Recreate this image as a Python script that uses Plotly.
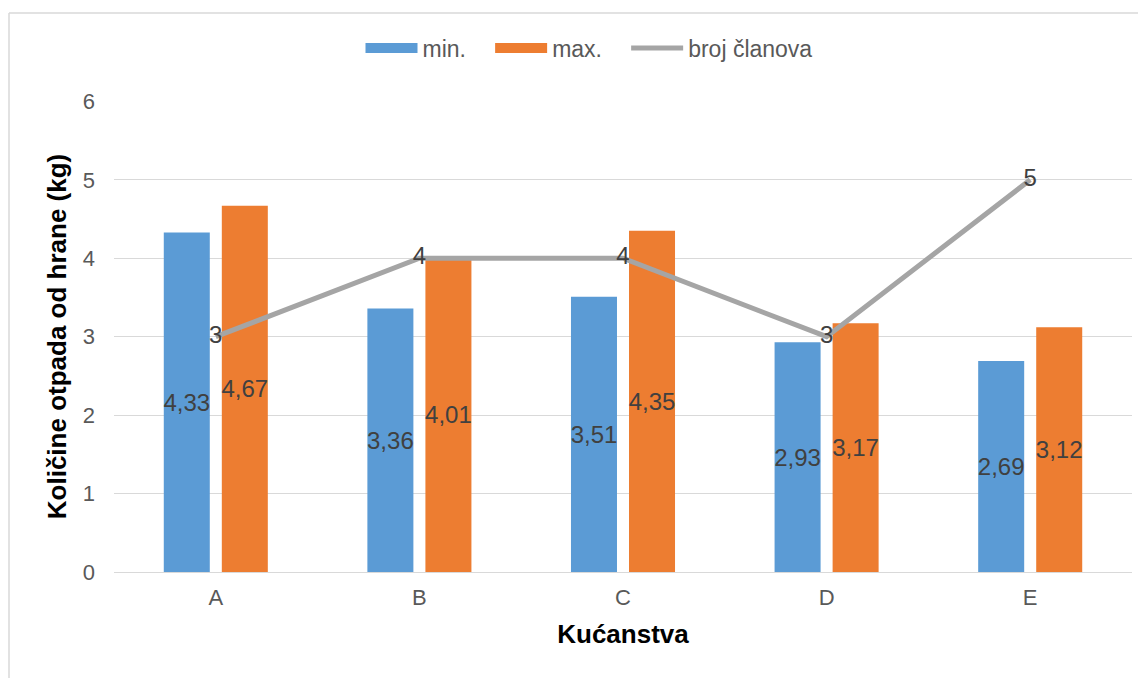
import plotly.graph_objects as go

categories = ["A", "B", "C", "D", "E"]
min_values = [4.33, 3.36, 3.51, 2.93, 2.69]
max_values = [4.67, 4.01, 4.35, 3.17, 3.12]
members = [3, 4, 4, 3, 5]
y_ticks = [0, 1, 2, 3, 4, 5, 6]

min_labels = [f"{v:.2f}".replace(".", ",") for v in min_values]
max_labels = [f"{v:.2f}".replace(".", ",") for v in max_values]
member_labels = [str(v) for v in members]

BLUE = "#5B9BD5"
ORANGE = "#ED7D31"
GRAY = "#A5A5A5"
FONT = "Liberation Sans, Arial, sans-serif"
PAD = "\u00a0\u00a0\u00a0"

fig = go.Figure()

fig.add_trace(go.Bar(
    x=categories, y=min_values, name="min.", marker=dict(color=BLUE, line=dict(width=0)),
    text=min_labels, textposition="inside", insidetextanchor="middle", textangle=0,
    constraintext="none", textfont=dict(color="#404040", size=24, family=FONT),
    showlegend=False, cliponaxis=False,
))
fig.add_trace(go.Bar(
    x=categories, y=max_values, name="max.", marker=dict(color=ORANGE, line=dict(width=0)),
    text=max_labels, textposition="inside", insidetextanchor="middle", textangle=0,
    constraintext="none", textfont=dict(color="#404040", size=24, family=FONT),
    showlegend=False, cliponaxis=False,
))
fig.add_trace(go.Scatter(
    x=categories, y=members, name="broj članova", mode="lines+text",
    line=dict(color=GRAY, width=5), text=member_labels, textposition="middle center",
    textfont=dict(color="#404040", size=24, family=FONT), showlegend=False, cliponaxis=False,
))

# legend entries
fig.add_trace(go.Scatter(x=[None], y=[None], mode="lines", name="min." + PAD,
                         line=dict(color=BLUE, width=11)))
fig.add_trace(go.Scatter(x=[None], y=[None], mode="lines", name="max." + PAD,
                         line=dict(color=ORANGE, width=11)))
fig.add_trace(go.Scatter(x=[None], y=[None], mode="lines", name="broj članova",
                         line=dict(color=GRAY, width=5)))

OFF = 8  # page body margin
W, H = 1146 - OFF, 678 - OFF
L, R, T, B = 114 - OFF, 14, 101 - OFF, 106
pw, ph = W - L - R, H - T - B
bx = (9 - OFF - L) / pw
by = (H - B - (13 - OFF)) / ph

fig.update_layout(
    width=W, height=H,
    margin=dict(l=L, r=R, t=T, b=B, pad=0),
    paper_bgcolor="white", plot_bgcolor="white",
    barmode="group", bargap=0.43, bargroupgap=0.207,
    font=dict(family=FONT, color="#595959", size=22),
    legend=dict(orientation="h", x=(589 - 114) / pw, xanchor="center", y=(H - B - (48 - OFF)) / ph,
                yanchor="middle", font=dict(size=23, color="#595959", family=FONT),
                itemwidth=52, bgcolor="rgba(0,0,0,0)", traceorder="normal"),
    xaxis=dict(showgrid=False, showline=False, zeroline=False, ticks="",
               tickfont=dict(size=22, color="#595959"), ticklabelstandoff=10,
               title=dict(text="<b>Kućanstva</b>", font=dict(size=26, color="black", family=FONT),
                          standoff=15)),
    yaxis=dict(range=[0, 6.005], tickvals=y_ticks, showgrid=True, gridcolor="#D9D9D9", gridwidth=1.3,
               zeroline=True, zerolinecolor="#D9D9D9", zerolinewidth=1.3, showline=False, ticks="",
               tickfont=dict(size=22, color="#595959"), ticklabelstandoff=18,
               title=dict(text="<b>Količine otpada od hrane (kg)</b>",
                          font=dict(size=26, color="black", family=FONT), standoff=8)),
    shapes=[
        dict(type="line", xref="paper", yref="paper", x0=bx, x1=bx, y0=by, y1=-0.5,
             line=dict(color="#D9D9D9", width=1.5)),
        dict(type="line", xref="paper", yref="paper", x0=bx, x1=1.2, y0=by, y1=by,
             line=dict(color="#D9D9D9", width=1.5)),
    ],
)

fig.write_html("out.html")
